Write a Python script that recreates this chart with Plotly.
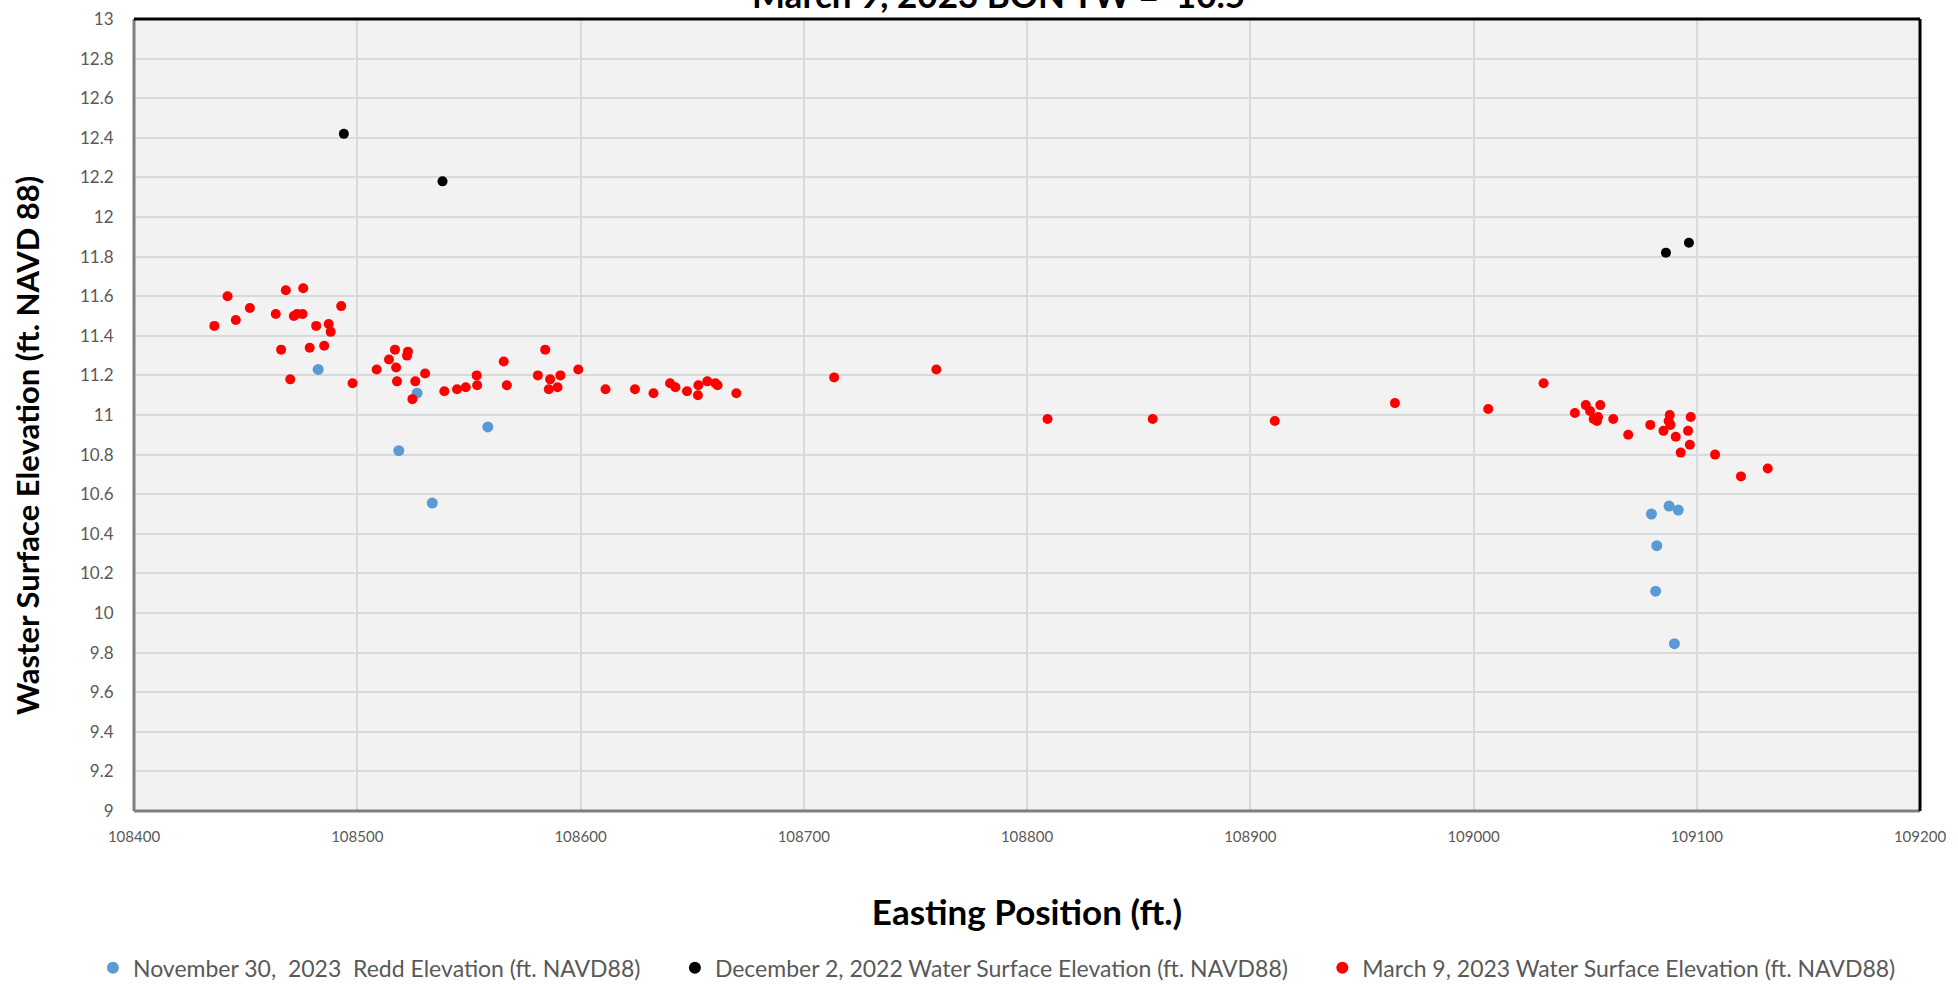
import plotly.graph_objects as go

# ---- data ----
redd_name = "November 30,  2023  Redd Elevation (ft. NAVD88)"
redd_x = [108482.5, 108518.6, 108526.8, 108533.6, 108558.5,
          109079.7, 109081.6, 109082.1, 109087.6, 109090.0, 109091.7]
redd_y = [11.23, 10.82, 11.11, 10.555, 10.94,
          10.50, 10.11, 10.34, 10.54, 9.845, 10.52]

dec_name = "December 2, 2022 Water Surface Elevation (ft. NAVD88)"
dec_x = [108494.0, 108538.2, 109086.2, 109096.5]
dec_y = [12.42, 12.18, 11.82, 11.87]

mar_name = "March 9, 2023 Water Surface Elevation (ft. NAVD88)"
mar_x = [108436.0, 108441.9, 108445.6, 108451.9, 108463.5, 108465.9, 108468.0, 108470.0,
         108471.6, 108473.0, 108475.5, 108475.8, 108478.7, 108481.6, 108485.2, 108487.2,
         108488.1, 108492.8, 108497.9, 108508.7, 108514.2, 108516.9, 108517.4, 108517.8,
         108522.3, 108522.7, 108524.7, 108526.0, 108530.4, 108539.0, 108544.7, 108548.6,
         108553.5, 108553.7, 108565.6, 108567.0, 108580.9, 108584.2, 108586.4, 108585.8,
         108589.7, 108591.0, 108599.0, 108611.2, 108624.4, 108632.7, 108640.1, 108642.5,
         108647.7, 108652.8, 108652.6, 108656.8, 108660.4, 108661.4, 108669.8, 108713.6,
         108759.4, 108809.2, 108856.3, 108911.0, 108964.8, 109006.6, 109031.4, 109045.4,
         109050.3, 109052.2, 109056.8, 109053.8, 109055.3, 109055.8, 109062.6, 109069.3,
         109079.2, 109085.1, 109087.9, 109087.4, 109088.2, 109090.6, 109092.8, 109096.1,
         109096.9, 109097.3, 109108.2, 109119.8, 109131.8]
mar_y = [11.45, 11.60, 11.48, 11.54, 11.51, 11.33, 11.63, 11.18,
         11.50, 11.51, 11.51, 11.64, 11.34, 11.45, 11.35, 11.46,
         11.42, 11.55, 11.16, 11.23, 11.28, 11.33, 11.24, 11.17,
         11.30, 11.32, 11.08, 11.17, 11.21, 11.12, 11.13, 11.14,
         11.20, 11.15, 11.27, 11.15, 11.20, 11.33, 11.18, 11.13,
         11.14, 11.20, 11.23, 11.13, 11.13, 11.11, 11.16, 11.14,
         11.12, 11.15, 11.10, 11.17, 11.16, 11.15, 11.11, 11.19,
         11.23, 10.98, 10.98, 10.97, 11.06, 11.03, 11.16, 11.01,
         11.05, 11.02, 11.05, 10.98, 10.97, 10.99, 10.98, 10.90,
         10.95, 10.92, 11.00, 10.97, 10.95, 10.89, 10.81, 10.92,
         10.85, 10.99, 10.80, 10.69, 10.73]

title_text = "March 9, 2023 BON TW =  10.5"
x_title = "Easting Position (ft.)"
y_title = "Waster Surface Elevation (ft. NAVD 88)"

FONT = "Lato"
PAD = "\u00a0" * 5  # spacing between legend entries

fig = go.Figure()
fig.add_trace(go.Scatter(x=redd_x, y=redd_y, mode="markers", name=redd_name + PAD,
                         marker=dict(color="#5b9bd5", size=11)))
fig.add_trace(go.Scatter(x=dec_x, y=dec_y, mode="markers", name=dec_name + PAD,
                         marker=dict(color="#000000", size=10)))
fig.add_trace(go.Scatter(x=mar_x, y=mar_y, mode="markers", name=mar_name,
                         marker=dict(color="#ff0000", size=10)))

fig.update_layout(
    width=1958, height=984,
    margin=dict(l=134, r=38, t=19, b=173, autoexpand=False),
    paper_bgcolor="white", plot_bgcolor="#f2f2f2",
    font=dict(family=FONT, color="#595959"),
    showlegend=True,
    legend=dict(orientation="h", x=-0.023, xanchor="left", y=-0.198, yanchor="middle",
                font=dict(family=FONT, size=23, color="#595959"),
                itemsizing="constant", itemwidth=30),
    annotations=[
        dict(text="<b>" + title_text + "</b>", xref="paper", yref="paper",
             x=0.484, y=1.003, xanchor="center", yanchor="bottom", showarrow=False,
             font=dict(family=FONT, size=35, color="black")),
        dict(text="<b>" + y_title + "</b>", xref="paper", yref="paper",
             x=-0.060, y=0.462, xanchor="center", yanchor="middle", textangle=-90,
             showarrow=False, font=dict(family=FONT, size=31, color="black")),
    ],
    shapes=[
        dict(type="line", xref="paper", yref="paper", x0=0, x1=0, y0=0, y1=1,
             line=dict(color="#7f7f7f", width=3)),
        dict(type="line", xref="paper", yref="paper", x0=0, x1=1, y0=0, y1=0,
             line=dict(color="#7f7f7f", width=3)),
        dict(type="line", xref="paper", yref="paper", x0=0, x1=1, y0=1, y1=1,
             line=dict(color="black", width=3)),
        dict(type="line", xref="paper", yref="paper", x0=1, x1=1, y0=0, y1=1,
             line=dict(color="black", width=3)),
    ],
)
fig.update_xaxes(range=[108400, 109200], tick0=108400, dtick=100, tickformat="d",
                 automargin=False,
                 showgrid=True, gridcolor="#d9d9d9", gridwidth=2, zeroline=False,
                 ticks="outside", ticklen=12, tickcolor="rgba(0,0,0,0)",
                 tickfont=dict(family=FONT, size=15, color="#595959"),
                 title=dict(text="<b>" + x_title + "</b>", standoff=56,
                            font=dict(family=FONT, size=35, color="black")))
fig.update_yaxes(range=[9, 13], tick0=9, dtick=0.2,
                 automargin=False,
                 showgrid=True, gridcolor="#d9d9d9", gridwidth=2, zeroline=False,
                 ticks="outside", ticklen=16, tickcolor="rgba(0,0,0,0)",
                 tickfont=dict(family=FONT, size=17, color="#595959"))

fig.write_html("out.html",
               config={"displayModeBar": False},
               post_script="document.body.style.margin='0px';document.body.style.overflow='hidden';")
